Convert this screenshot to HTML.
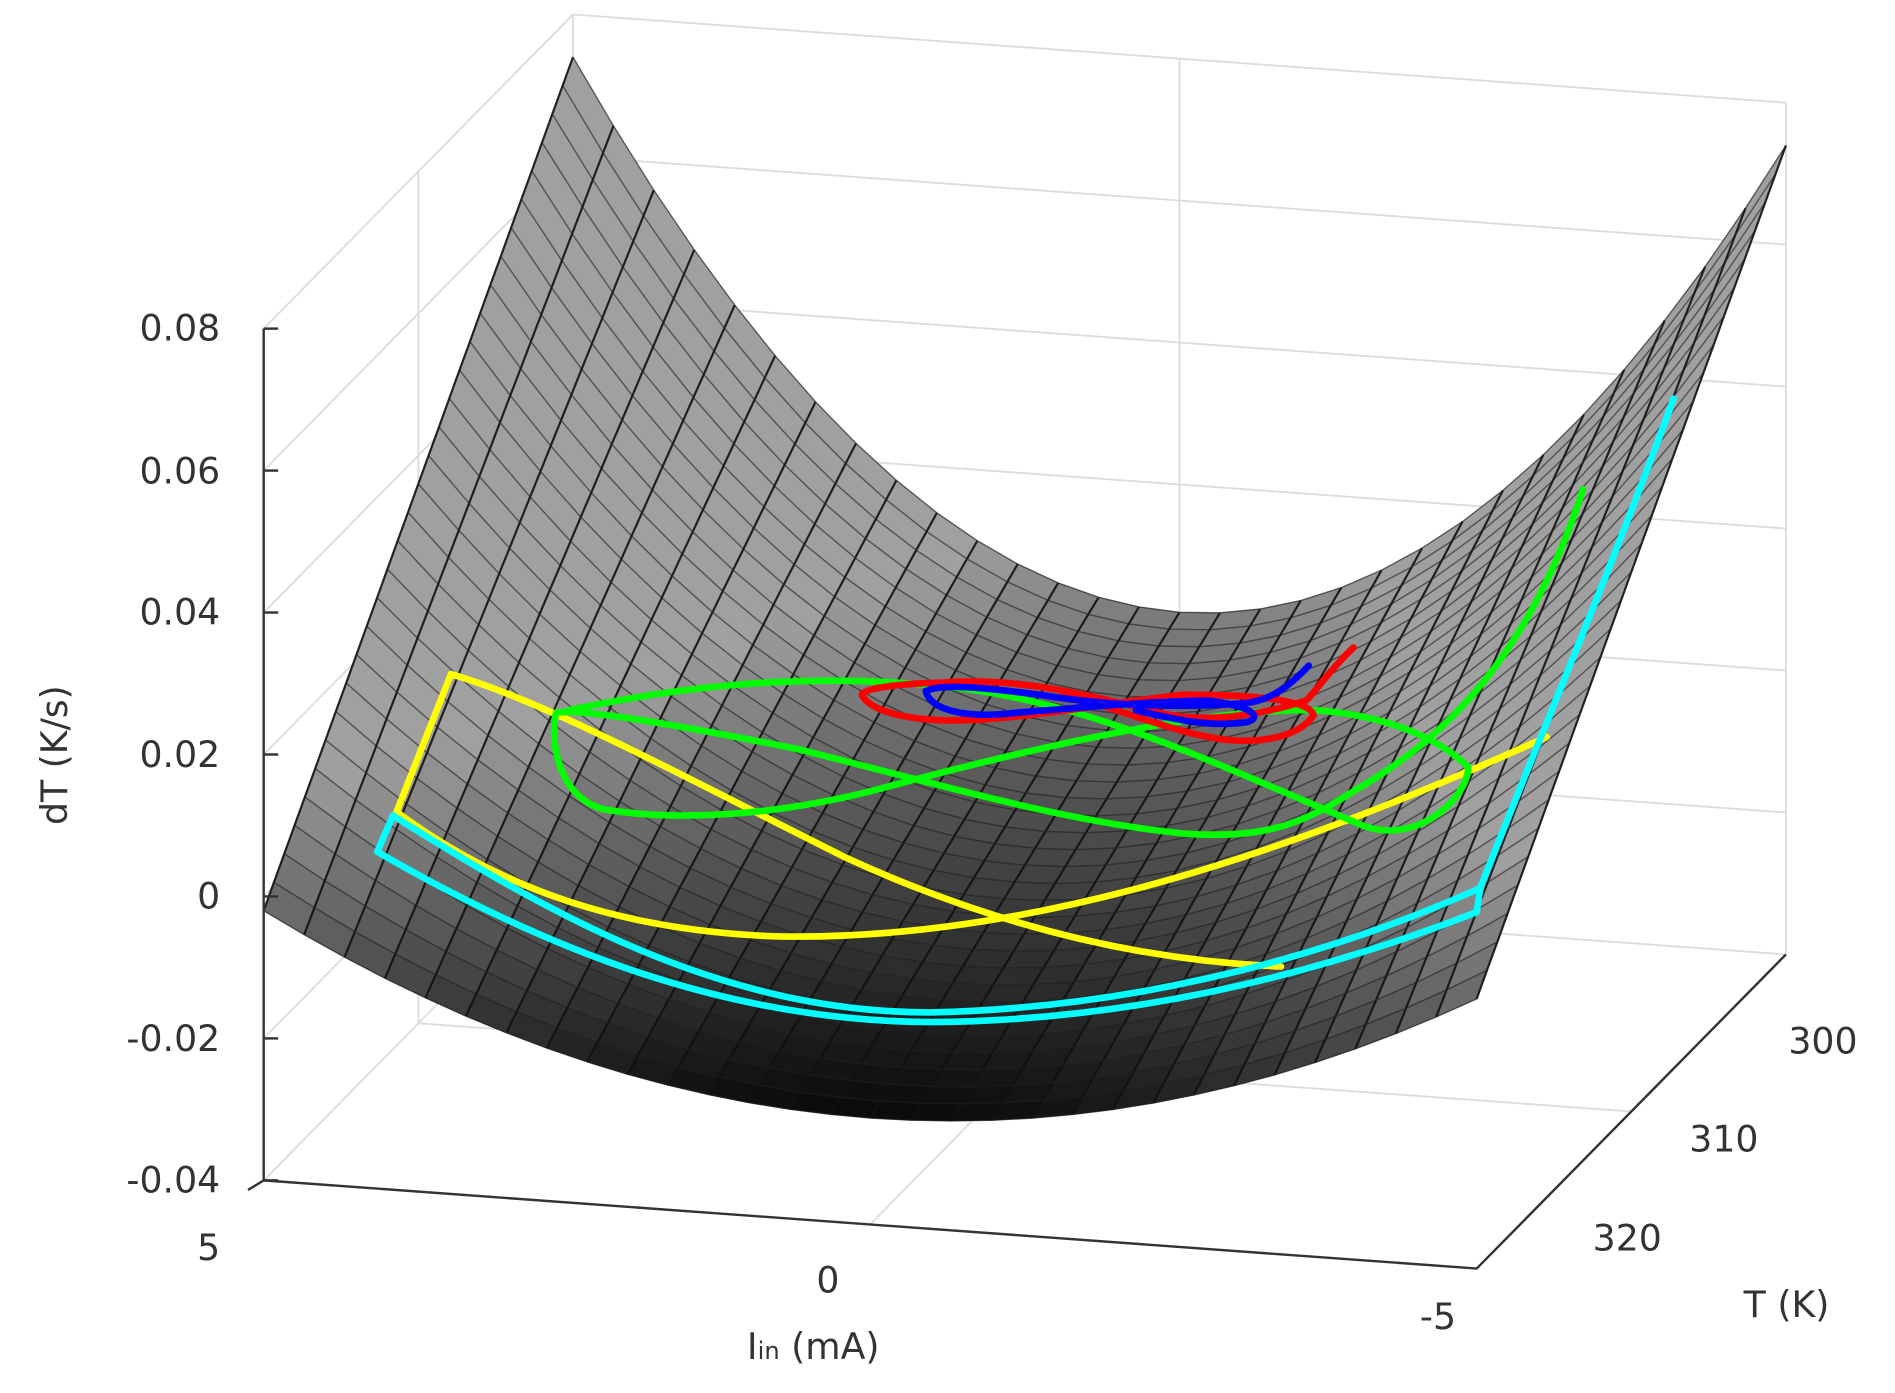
<!DOCTYPE html>
<html><head><meta charset="utf-8"><style>
html,body{margin:0;padding:0;background:#fff}
svg{display:block}
text{font-family:"DejaVu Sans","Liberation Sans",sans-serif;fill:#333;font-size:30px}
</style></head><body>
<svg id="s" width="1895" height="1393" viewBox="0 0 1568 1153" xmlns="http://www.w3.org/2000/svg">
<g id="box" stroke="#dcdcdc" stroke-width="1.5" fill="none"></g>
<g id="surf"></g>
<g id="curves" fill="none" stroke-width="5.5" stroke-linecap="round" stroke-linejoin="round">
<path stroke="#ffff00" d="M373,558 L328,672 C420,740 520,770 640,775 C860,780 1080,700 1280,610"/>
<path stroke="#ffff00" d="M373,558 C450,580 560,640 700,710 C820,765 940,795 1060,800"/>
<path stroke="#00ff00" d="M470,588 C600,560 700,560 780,568 C900,580 1000,630 1120,680 C1170,705 1215,660 1215,635 C1180,600 1120,590 1090,588 C1000,585 850,620 720,655 C640,675 560,680 500,670 C460,660 455,610 460,590 C480,586 560,600 660,620 C780,650 880,680 980,690 C1050,695 1080,680 1120,655 C1180,620 1260,560 1310,405"/>
<path stroke="#ff0000" d="M1120,536 C1095,560 1085,578 1080,580 C1050,590 1000,600 960,590 C900,575 840,560 780,565 C740,566 715,570 713,575 C720,590 760,600 820,595 C880,590 930,580 980,575 C1040,575 1085,580 1087,592 C1075,610 1040,618 1000,610 C970,605 920,585 880,575"/>
<path stroke="#0000ff" d="M1083,551 C1065,570 1050,580 1030,582 C980,586 920,585 860,575 C820,570 780,565 766,572 C770,588 800,595 840,590 C900,585 960,580 1000,580 C1040,585 1045,595 1030,598 C1000,602 970,595 940,588"/>
<path stroke="#00ffff" d="M1385,330 C1330,480 1270,620 1225,735 C1080,800 920,835 770,838 C600,838 460,760 325,675 L312,705 C450,785 600,845 770,846 C930,845 1080,810 1222,755 L1225,735"/>
</g>
<g id="axes" stroke="#333" stroke-width="2" fill="none">
<path d="M218,272 L218,977 L205,985 M218,977 L1222,1050 L1478,790"/>
</g>
<text x="182" y="282" text-anchor="end">0.08</text>
<text x="182" y="400" text-anchor="end">0.06</text>
<text x="182" y="517" text-anchor="end">0.04</text>
<text x="182" y="635" text-anchor="end">0.02</text>
<text x="182" y="752" text-anchor="end">0</text>
<text x="182" y="870" text-anchor="end">-0.02</text>
<text x="182" y="987" text-anchor="end">-0.04</text>
<text x="182" y="1043" text-anchor="end">5</text>
<text x="685" y="1070" text-anchor="middle">0</text>
<text x="1190" y="1100" text-anchor="middle">-5</text>
<text x="1480" y="872">300</text>
<text x="1398" y="953">310</text>
<text x="1318" y="1035">320</text>
<text x="1443" y="1090">T (K)</text>
<text x="618" y="1125">I<tspan font-size="20">in</tspan> (mA)</text>
<text transform="translate(55,625) rotate(-90)" text-anchor="middle">dT (K/s)</text>
</svg>
<script>
var NS="http://www.w3.org/2000/svg";
function el(p,t,a){var e=document.createElementNS(NS,t);for(var k in a)e.setAttribute(k,a[k]);p.appendChild(e);return e;}
var FL=[218,977],FR=[1222,1050],BL=[474,717],BR=[1478,790],ZS=5875;
function base(u,v){
 var fx=FL[0]+(FR[0]-FL[0])*u, fy=FL[1]+(FR[1]-FL[1])*u;
 var bx=BL[0]+(BR[0]-BL[0])*u, by=BL[1]+(BR[1]-BL[1])*u;
 return [fx+(bx-fx)*v, fy+(by-fy)*v];}
function zf(u,v){var I=5-10*u;var c=-0.025+0.027*v,k=0.00092+0.00196*v;return c+k*I*I;}
function P(u,v,z){var b=base(u,v);return [b[0],b[1]-(z+0.04)*ZS];}
var box=document.getElementById('box');
var zt=[-0.04,-0.02,0,0.02,0.04,0.06,0.08];
zt.forEach(function(z){var a=P(0,0,z),b=P(0,1,z),c=P(1,1,z);
 el(box,'path',{d:'M'+a+' L'+b+' L'+c});});
[[0,1],[0.5,1],[1,1],[0,0.5]].forEach(function(q){var a=P(q[0],q[1],-0.04),b=P(q[0],q[1],0.08);el(box,'path',{d:'M'+a+' L'+b});});
el(box,'path',{d:'M'+P(0.5,0,-0.04)+' L'+P(0.5,1,-0.04)+' M'+P(0,0.5,-0.04)+' L'+P(1,0.5,-0.04)});
var s=document.getElementById('surf');var NU=30,NV=30;
for(var j=NV-1;j>=0;j--){for(var i=0;i<NU;i++){
 var u0=i/NU,u1=(i+1)/NU,v0=j/NV,v1=(j+1)/NV;
 var z=(zf(u0,v0)+zf(u1,v0)+zf(u0,v1)+zf(u1,v1))/4;
 var g=Math.round(Math.max(5,Math.min(160,(z+0.027)/0.037*160)));
 var pts=[P(u0,v0,zf(u0,v0)),P(u1,v0,zf(u1,v0)),P(u1,v1,zf(u1,v1)),P(u0,v1,zf(u0,v1))];
 el(s,'polygon',{points:pts.map(function(p){return p[0].toFixed(1)+','+p[1].toFixed(1)}).join(' '),fill:'rgb('+g+','+g+','+g+')',stroke:'rgb('+g+','+g+','+g+')','stroke-width':'0.6'});}}
var gl=el(s,'g',{fill:'none',stroke:'#111','stroke-width':'1.8','stroke-opacity':'0.9'});
for(var i=0;i<=NU;i++){var d='';for(var j=0;j<=NV;j++){var p=P(i/NU,j/NV,zf(i/NU,j/NV));d+=(j?'L':'M')+p[0].toFixed(1)+','+p[1].toFixed(1);}el(gl,'path',{d:d});}
var gl2=el(s,'g',{fill:'none',stroke:'#222','stroke-width':'1.2','stroke-opacity':'0.6'});
for(var j=0;j<=NV;j++){var d='';for(var i=0;i<=NU;i++){var p=P(i/NU,j/NV,zf(i/NU,j/NV));d+=(i?'L':'M')+p[0].toFixed(1)+','+p[1].toFixed(1);}el(gl2,'path',{d:d});}
var ax=document.getElementById('axes');
zt.forEach(function(z){var p=P(0,0,z);el(ax,'path',{d:'M218,'+p[1]+' L230,'+p[1]});});
</script>
</body></html>
